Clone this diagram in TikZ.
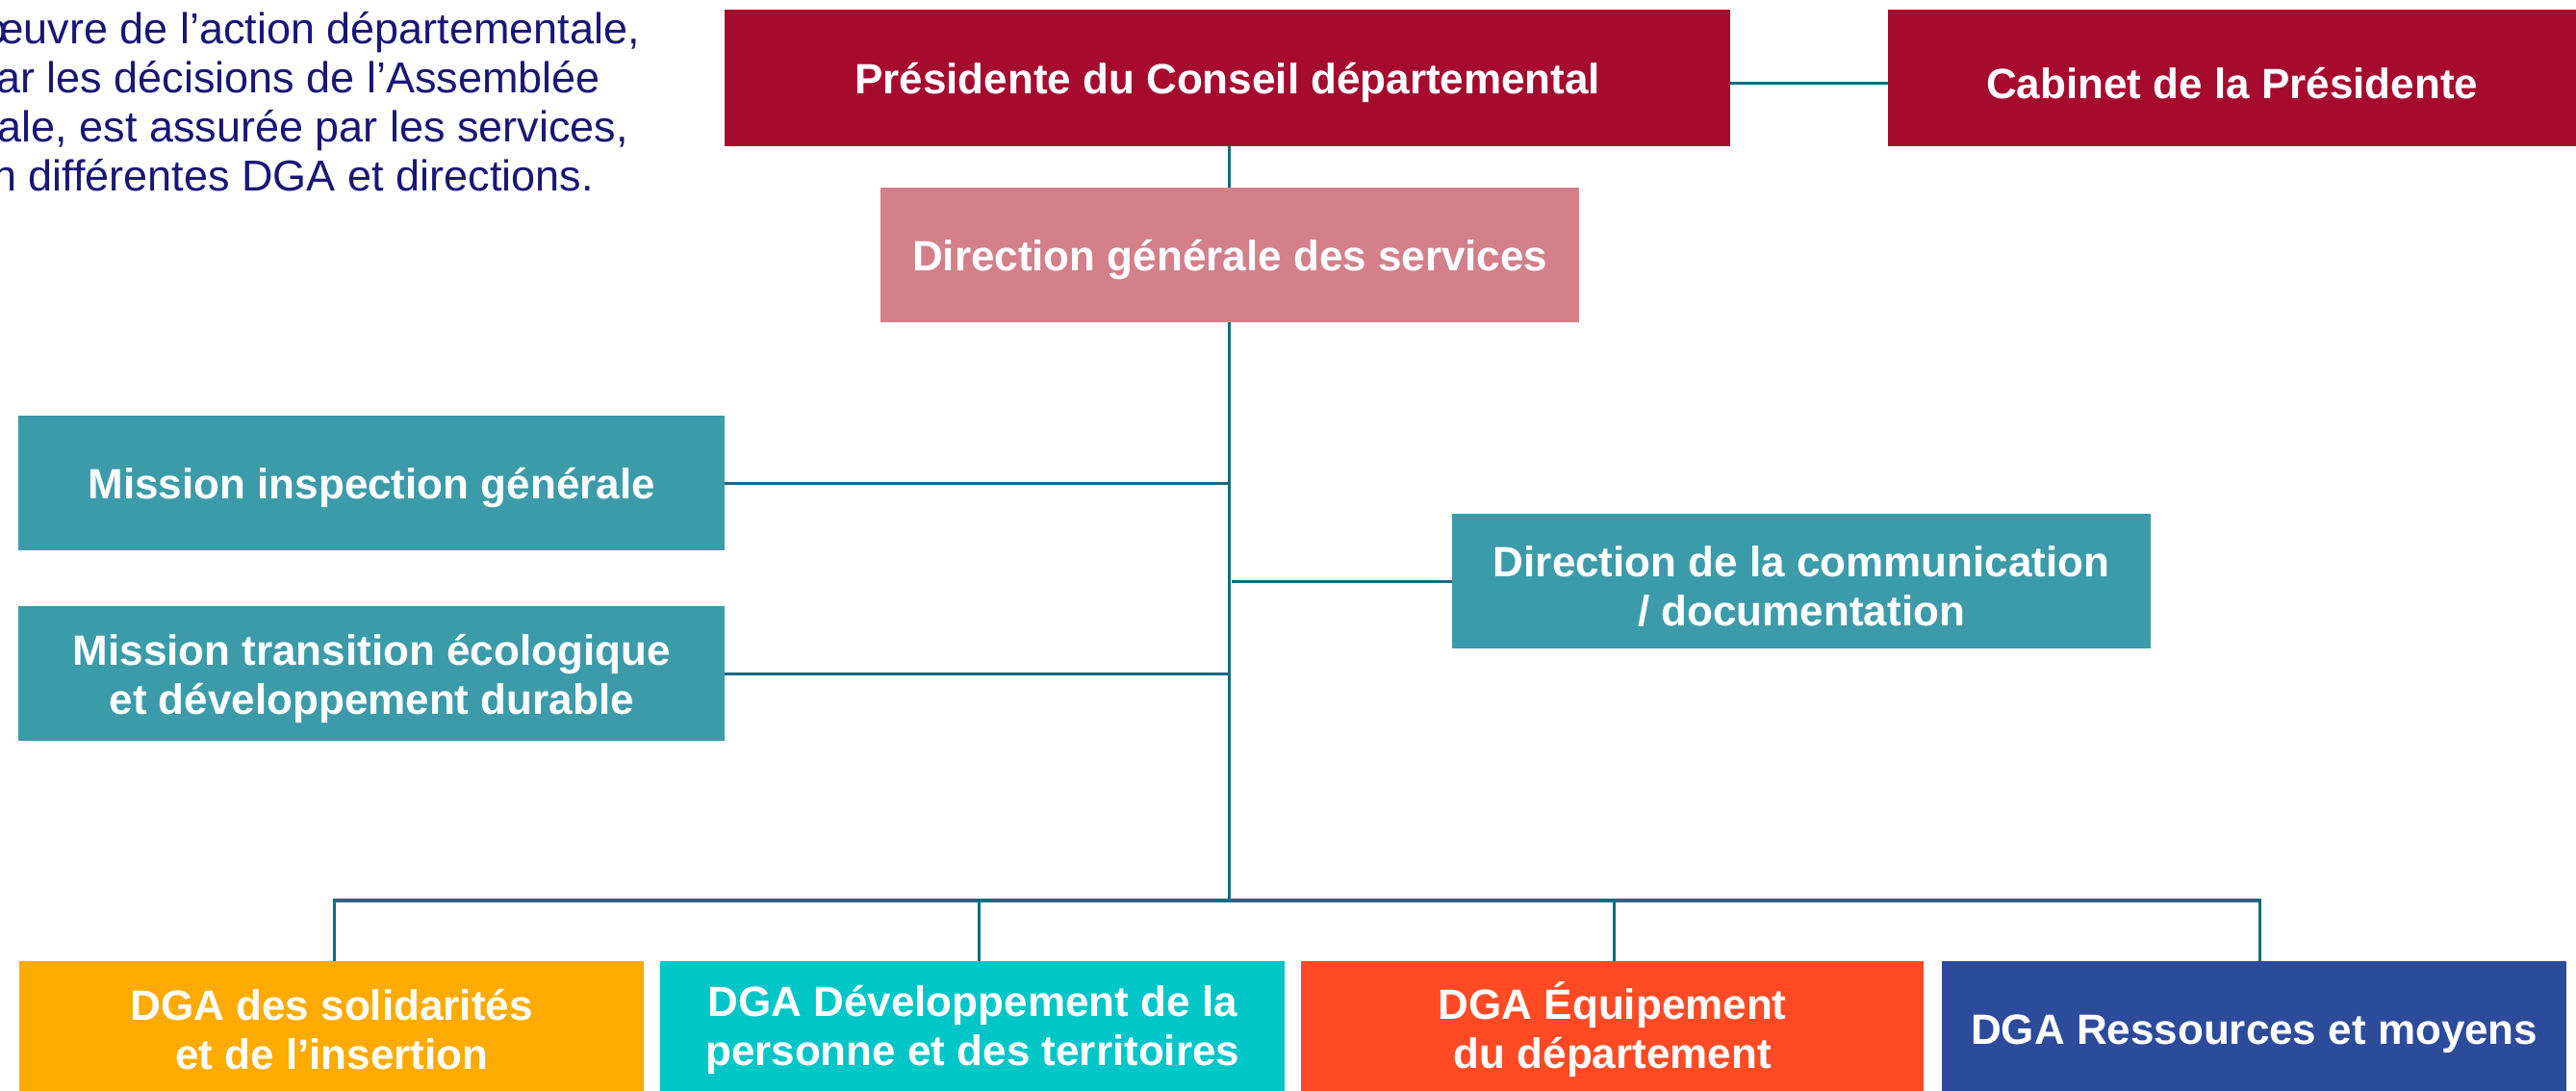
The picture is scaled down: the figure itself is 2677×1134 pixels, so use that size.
\documentclass[tikz,border=0pt]{standalone}
\usepackage{fontspec}
\setmainfont{Liberation Sans}
\definecolor{crimson}{HTML}{A60B2F}
\definecolor{pinkdgs}{HTML}{D3808B}
\definecolor{tealm}{HTML}{3C9BA9}
\definecolor{orangeg}{HTML}{FDAB00}
\definecolor{cyang}{HTML}{00C6C8}
\definecolor{redg}{HTML}{FF4A24}
\definecolor{blueg}{HTML}{2D4B9B}
\definecolor{linec}{HTML}{156B7F}
\definecolor{navy}{HTML}{1A1675}
\begin{document}
\begin{tikzpicture}[x=1pt,y=-1pt,
  box/.style={rectangle, anchor=north west, inner sep=0pt},
  boxtext/.style={inner sep=0pt, text=white, align=center, yshift=-5pt,
    font=\fontsize{44}{51}\selectfont\bfseries},
  conn/.style={draw=linec, line width=3pt},
  bus/.style={draw=linec, line width=3.5pt},
  para/.style={anchor=base west, inner sep=0pt, text=navy,
    font=\fontsize{45}{51}\selectfont}]
\useasboundingbox (0,0) rectangle (2677,1134);
\clip (0,0) rectangle (2677,1134);
% intro text (cut at the left edge)
\node[para] (t1) at (-18,46) {œuvre de l’action départementale,};
\node[para] (t2) at (-29,97) {par les décisions de l’Assemblée};
\node[para] (t3) at (-15,148) {tale, est assurée par les services,};
\node[para] (t4) at (-8,199) {n différentes DGA et directions.};
% boxes
\node[box, fill=crimson, minimum width=1045, minimum height=142] (pres) at (753,10) {};
\node[box, fill=crimson, minimum width=715, minimum height=142] (cab) at (1962,10) {};
\node[box, fill=pinkdgs, minimum width=726, minimum height=140] (dgs) at (915,195) {};
\node[box, fill=tealm, minimum width=734, minimum height=140] (mig) at (19,432) {};
\node[box, fill=tealm, minimum width=734, minimum height=140] (mte) at (19,630) {};
\node[box, fill=tealm, minimum width=726, minimum height=140] (com) at (1509,534) {};
\node[box, fill=orangeg, minimum width=649, minimum height=140] (dga1) at (20,999) {};
\node[box, fill=cyang, minimum width=649, minimum height=140] (dga2) at (686,999) {};
\node[box, fill=redg, minimum width=647, minimum height=140] (dga3) at (1352,999) {};
\node[box, fill=blueg, minimum width=649, minimum height=140] (dga4) at (2018,999) {};
% box texts
\node[boxtext] (presT) at (pres.center) {Présidente du Conseil départemental};
\node[boxtext] (cabT) at (cab.center) {Cabinet de la Présidente};
\node[boxtext] (dgsT) at (dgs.center) {Direction générale des services};
\node[boxtext] (migT) at (mig.center) {Mission inspection générale};
\node[boxtext] (mteT) at (mte.center) {Mission transition écologique\\et développement durable};
\node[boxtext] (comT) at (com.center) {Direction de la communication\\/ documentation};
\node[boxtext] (dga1T) at ([yshift=4pt]dga1.center) {DGA des solidarités\\et de l’insertion};
\node[boxtext] (dga2T) at ([yshift=4pt]dga2.center) {DGA Développement de la\\personne et des territoires};
\node[boxtext] (dga3T) at ([yshift=4pt]dga3.center) {DGA Équipement\\du département};
\node[boxtext] (dga4T) at ([yshift=0pt]dga4.center) {DGA Ressources et moyens};
\coordinate (busc) at (1277,936);
\coordinate (d1) at ([xshift=3pt]dga1.north);
\coordinate (d2) at ([xshift=7pt]dga2.north);
\coordinate (d3) at ([xshift=2pt]dga3.north);
\coordinate (d4) at ([xshift=6pt]dga4.north);
% connectors
\draw[conn] ([yshift=-5pt]pres.east) -- ([yshift=-5pt]cab.west);
\draw[conn] (busc |- pres.south) -- (busc |- dgs.north);
\draw[conn] (busc |- dgs.south) -- (busc);
\draw[conn] (mig.east) -- (mig.east -| busc);
\draw[conn] (mte.east) -- (mte.east -| busc);
\draw[conn] (com.west) -- ([xshift=3pt]com.west -| busc);
\draw[conn] (d1) -- (d1 |- busc);
\draw[conn] (d2) -- (d2 |- busc);
\draw[conn] (d3) -- (d3 |- busc);
\draw[conn] (d4) -- (d4 |- busc);
\draw[bus] ([xshift=-1.5pt]d1 |- busc) -- ([xshift=1.5pt]d4 |- busc);
\end{tikzpicture}
\end{document}
